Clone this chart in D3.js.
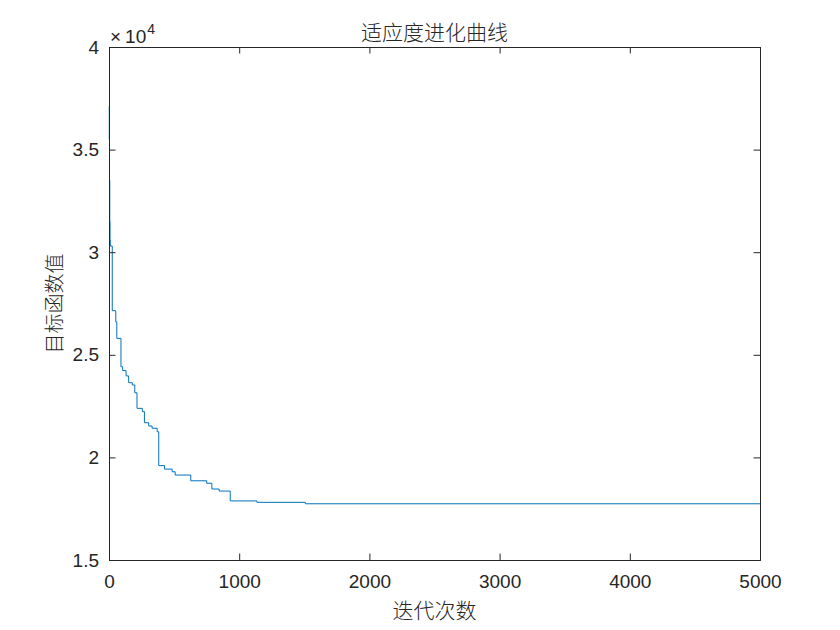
<!DOCTYPE html>
<html>
<head>
<meta charset="utf-8">
<script src="https://cdn.jsdelivr.net/npm/d3@7"></script>
<style>
  html, body { margin: 0; padding: 0; background: #fff; }
  svg { display: block; }
  text { font-family: "Liberation Sans", Arial, sans-serif; fill: #262626; }
  .cjk { font-family: "Noto Sans CJK SC", sans-serif; font-weight: 300; }
</style>
</head>
<body>
<script>
// Iterations where the best objective value changes (step after)
const iterations = [0, 2, 4, 6, 8, 10, 12, 25, 52, 60, 92, 105, 131, 151, 179, 198, 215, 256, 272, 305, 331, 370, 382, 426, 485, 508, 628, 751, 790, 846, 931, 1136, 1508, 5000];
const fitness    = [37120, 35500, 33500, 31500, 30600, 30350, 30300, 27150, 26600, 25800, 24420, 24230, 23970, 23640, 23530, 23150, 22390, 22230, 21690, 21530, 21420, 21250, 19600, 19430, 19300, 19140, 18860, 18740, 18460, 18360, 17880, 17810, 17740, 17740];
const xTicks = [0, 1000, 2000, 3000, 4000, 5000];
const yTicks = [1.5, 2, 2.5, 3, 3.5, 4];
const yScaleFactor = 1e4;
const titleText = "适应度进化曲线";
const xLabelText = "迭代次数";
const yLabelText = "目标函数值";

const W = 840, H = 630;
const m = { left: 109, right: 80, top: 47, bottom: 70 };
const pw = W - m.left - m.right, ph = H - m.top - m.bottom;

const svg = d3.select("body").append("svg").attr("width", W).attr("height", H);
const g = svg.append("g").attr("transform", `translate(${m.left},${m.top})`);

const x = d3.scaleLinear().domain([0, 5000]).range([0, pw]);
const y = d3.scaleLinear().domain([1.5, 4]).range([ph, 0]);

const data = iterations.map((it, i) => ({ it, v: fitness[i] / yScaleFactor }));

g.append("path")
  .datum(data)
  .attr("fill", "none")
  .attr("stroke", "#0072BD")
  .attr("stroke-width", 1)
  .attr("d", d3.line().x(d => x(d.it)).y(d => y(d.v)).curve(d3.curveStepAfter));

const tickLen = 6.5;
const axisColor = "#262626";
function styleAxis(sel) {
  sel.select(".domain").attr("stroke", axisColor).attr("stroke-width", 1);
  sel.selectAll(".tick line").attr("stroke", axisColor);
  sel.selectAll(".tick text").attr("font-size", 19).attr("fill", axisColor)
     .style("font-family", '"Liberation Sans", Arial, sans-serif');
}
const xa = g.append("g").attr("transform", `translate(0,${ph})`)
  .call(d3.axisBottom(x).tickValues(xTicks).tickSize(-tickLen).tickPadding(15).tickFormat(d3.format("d")));
styleAxis(xa);
const xt = g.append("g")
  .call(d3.axisTop(x).tickValues(xTicks).tickSize(-tickLen).tickFormat(""));
styleAxis(xt);
const ya = g.append("g")
  .call(d3.axisLeft(y).tickValues(yTicks).tickSize(-tickLen).tickPadding(10).tickFormat(d => String(d)));
styleAxis(ya);
const yr = g.append("g").attr("transform", `translate(${pw},0)`)
  .call(d3.axisRight(y).tickValues(yTicks).tickSize(-tickLen).tickFormat(""));
styleAxis(yr);

// exponent label
const ex = svg.append("text").attr("x", m.left + 1).attr("y", m.top - 4)
  .style("font-size", "19px");
ex.append("tspan").text("×");
ex.append("tspan").attr("dx", 4).text("10");
ex.append("tspan").attr("dy", -9).attr("dx", 1).style("font-size", "14px").text("4");

svg.append("text").attr("class", "cjk")
  .attr("x", m.left + pw / 2).attr("y", 40)
  .attr("text-anchor", "middle").style("font-size", "21px").text(titleText);

svg.append("text").attr("class", "cjk")
  .attr("x", m.left + pw / 2).attr("y", 618)
  .attr("text-anchor", "middle").style("font-size", "21px").text(xLabelText);

svg.append("text").attr("class", "cjk")
  .attr("transform", `translate(62,${m.top + ph / 2}) rotate(-90)`)
  .attr("text-anchor", "middle").style("font-size", "20px").text(yLabelText);
</script>
</body>
</html>
